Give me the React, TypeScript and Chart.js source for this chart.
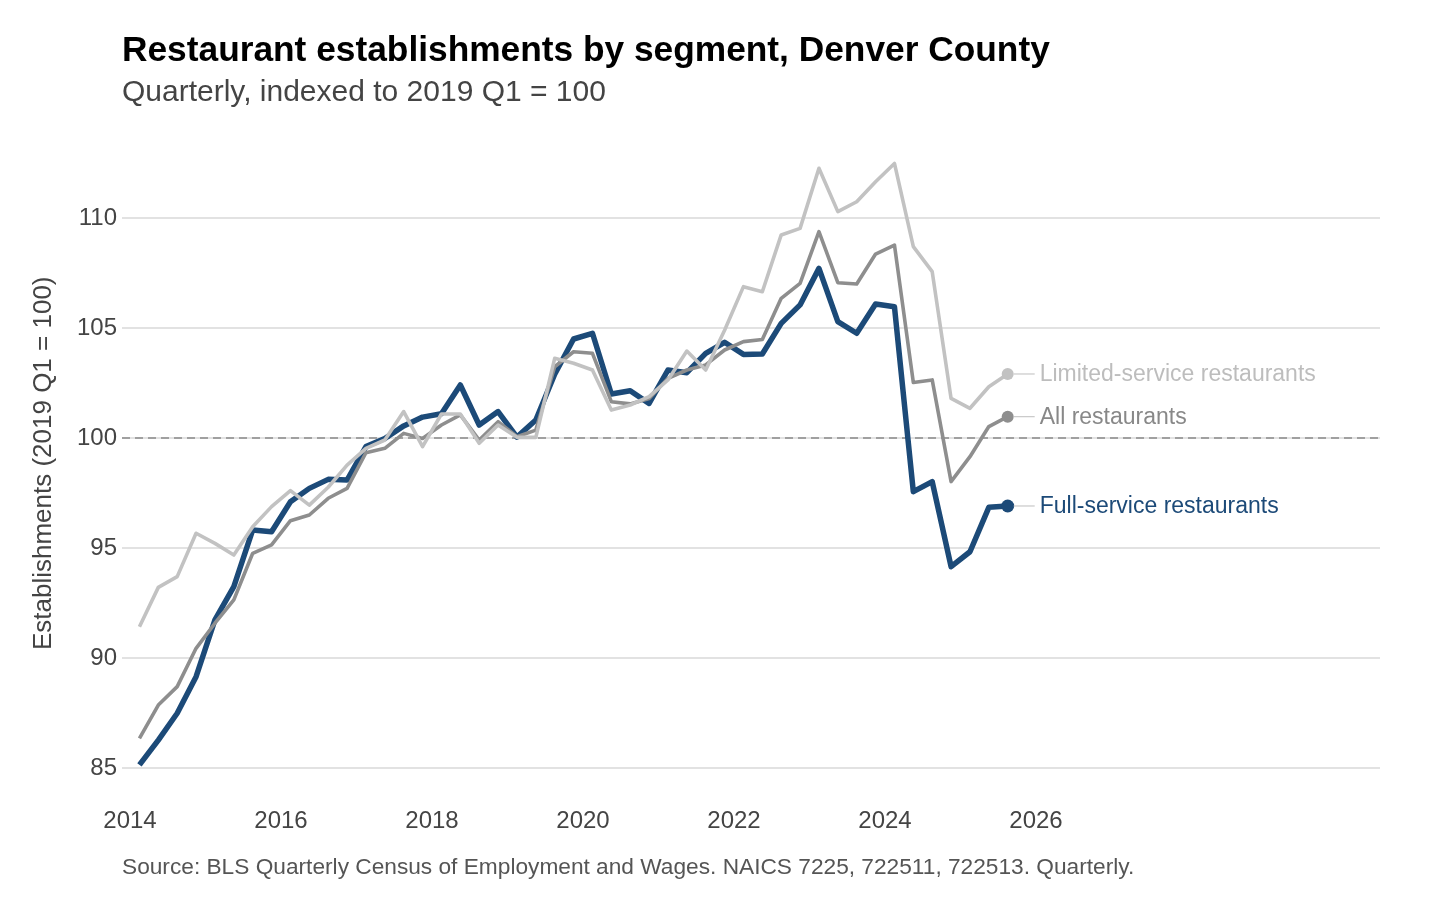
import { Chart, registerables } from 'chart.js';
import { useEffect, useRef } from 'react';

Chart.register(...registerables);

const FONT = '"Liberation Sans", Arial, Helvetica, sans-serif';

const quarters = [
  '2014 Q1', '2014 Q2', '2014 Q3', '2014 Q4',
  '2015 Q1', '2015 Q2', '2015 Q3', '2015 Q4',
  '2016 Q1', '2016 Q2', '2016 Q3', '2016 Q4',
  '2017 Q1', '2017 Q2', '2017 Q3', '2017 Q4',
  '2018 Q1', '2018 Q2', '2018 Q3', '2018 Q4',
  '2019 Q1', '2019 Q2', '2019 Q3', '2019 Q4',
  '2020 Q1', '2020 Q2', '2020 Q3', '2020 Q4',
  '2021 Q1', '2021 Q2', '2021 Q3', '2021 Q4',
  '2022 Q1', '2022 Q2', '2022 Q3', '2022 Q4',
  '2023 Q1', '2023 Q2', '2023 Q3', '2023 Q4',
  '2024 Q1', '2024 Q2', '2024 Q3', '2024 Q4',
  '2025 Q1', '2025 Q2', '2025 Q3',
];

const fullService = [
  85.14, 86.27, 87.49, 89.15, 91.73, 93.24, 95.82, 95.74,
  97.1, 97.71, 98.12, 98.09, 99.61, 99.98, 100.55, 100.95,
  101.1, 102.41, 100.59, 101.2, 100.04, 100.82, 102.9, 104.5,
  104.76, 102.0, 102.15, 101.57, 103.09, 102.97, 103.85, 104.35,
  103.8, 103.82, 105.21, 106.05, 107.71, 105.29, 104.76, 106.09,
  105.97, 97.56, 98.02, 94.15, 94.83, 96.85, 96.91,
];

const allRestaurants = [
  86.35, 87.86, 88.7, 90.44, 91.58, 92.64, 94.76, 95.14,
  96.24, 96.5, 97.26, 97.71, 99.33, 99.53, 100.21, 99.98,
  100.59, 101.05, 99.91, 100.74, 100.06, 100.36, 103.24, 103.92,
  103.85, 101.65, 101.55, 101.8, 102.71, 103.09, 103.32, 104.0,
  104.38, 104.48, 106.35, 107.03, 109.38, 107.06, 107.0, 108.36,
  108.77, 102.52, 102.64, 98.02, 99.15, 100.52, 100.97,
];

const limitedService = [
  91.42, 93.21, 93.7, 95.67, 95.21, 94.68, 95.97, 96.88,
  97.61, 96.95, 97.76, 98.77, 99.53, 99.91, 101.2, 99.61,
  101.09, 101.09, 99.76, 100.59, 100.03, 100.03, 103.62, 103.4,
  103.09, 101.27, 101.5, 101.88, 102.64, 103.95, 103.09, 104.9,
  106.88, 106.65, 109.23, 109.53, 112.26, 110.29, 110.74, 111.65,
  112.48, 108.7, 107.56, 101.8, 101.35, 102.33, 102.91,
];

const xTicks = [2014, 2016, 2018, 2020, 2022, 2024, 2026];
const yTicks = [85, 90, 95, 100, 105, 110];

// quarter label -> decimal year at the middle of the quarter
const toYear = (q: string) => {
  const [y, qq] = q.split(' Q');
  return Number(y) + (Number(qq) - 1) / 4 + 0.125;
};

const series = [
  { label: 'Limited-service restaurants', values: limitedService, color: '#c2c2c2', text: '#bdbdbd', width: 3.6, radius: 6 },
  { label: 'All restaurants', values: allRestaurants, color: '#8e8e8e', text: '#888', width: 3.6, radius: 6 },
  { label: 'Full-service restaurants', values: fullService, color: '#1c4a78', text: '#1c4a78', width: 5.5, radius: 6.5 },
];

const lastIdx = quarters.length - 1;

const decorations = {
  id: 'decorations',
  beforeDatasetsDraw(chart: any) {
    const { ctx, chartArea, scales } = chart;
    const y = scales.y.getPixelForValue(100);
    ctx.save();
    ctx.strokeStyle = '#8a8a8a';
    ctx.lineWidth = 1.6;
    ctx.setLineDash([8, 5]);
    ctx.beginPath();
    ctx.moveTo(chartArea.left, y);
    ctx.lineTo(chartArea.right, y);
    ctx.stroke();
    ctx.restore();
  },
  afterDraw(chart: any) {
    const { ctx } = chart;
    ctx.save();
    ctx.textBaseline = 'alphabetic';
    ctx.textAlign = 'left';
    ctx.fillStyle = '#000';
    ctx.font = `bold 35.3px ${FONT}`;
    ctx.fillText('Restaurant establishments by segment, Denver County', 122, 61);
    ctx.fillStyle = '#444';
    ctx.font = `30px ${FONT}`;
    ctx.fillText('Quarterly, indexed to 2019 Q1 = 100', 122, 101);
    ctx.fillStyle = '#555';
    ctx.font = `22.7px ${FONT}`;
    ctx.fillText(
      'Source: BLS Quarterly Census of Employment and Wages. NAICS 7225, 722511, 722513. Quarterly.',
      122,
      874,
    );

    // end-of-line labels
    series.forEach((s, i) => {
      const pt = chart.getDatasetMeta(i).data[lastIdx];
      if (!pt) return;
      ctx.strokeStyle = '#c8c8c8';
      ctx.lineWidth = 1.2;
      ctx.beginPath();
      ctx.moveTo(pt.x + 6, pt.y);
      ctx.lineTo(pt.x + 27, pt.y);
      ctx.stroke();
      ctx.fillStyle = s.text;
      ctx.font = `23px ${FONT}`;
      ctx.textBaseline = 'middle';
      ctx.fillText(s.label, pt.x + 32, pt.y + 1);
    });
    ctx.restore();
  },
};

const App = () => {
  const canvasRef = useRef<HTMLCanvasElement | null>(null);

  useEffect(() => {
    if (!canvasRef.current) return;
    const xs = quarters.map(toYear);

    const chart = new Chart(canvasRef.current, {
      type: 'line',
      data: {
        datasets: series.map((s, i) => ({
          label: s.label,
          data: s.values.map((v, j) => ({ x: xs[j], y: v })),
          borderColor: s.color,
          backgroundColor: s.color,
          borderWidth: s.width,
          borderJoinStyle: 'round',
          tension: 0,
          order: i,
          pointRadius: (c: any) => (c.dataIndex === lastIdx ? s.radius : 0),
          pointBorderWidth: 0,
          pointBackgroundColor: s.color,
        })),
      },
      options: {
        responsive: true,
        maintainAspectRatio: false,
        animation: false,
        events: [],
        layout: { padding: { top: 152, right: 76, bottom: 0, left: 0 } },
        plugins: {
          legend: { display: false },
          tooltip: { enabled: false },
        },
        scales: {
          x: {
            type: 'linear',
            min: 2013.894,
            max: 2030.556,
            grid: { display: false, drawTicks: false, tickLength: 0 },
            border: { display: false },
            afterBuildTicks: (s: any) => {
              s.ticks = xTicks.map((v) => ({ value: v }));
            },
            afterFit: (s: any) => {
              s.height = 135.4;
            },
            ticks: {
              color: '#444',
              font: { family: FONT, size: 24 },
              padding: 32,
              maxRotation: 0,
              callback: (v: any) => String(v),
            },
          },
          y: {
            min: 84.7,
            max: 113,
            grid: { color: '#e2e2e2', lineWidth: 2, drawTicks: false, tickLength: 0 },
            border: { display: false },
            afterBuildTicks: (s: any) => {
              s.ticks = yTicks.map((v) => ({ value: v }));
            },
            afterFit: (s: any) => {
              s.width = 122;
            },
            ticks: {
              color: '#444',
              font: { family: FONT, size: 24 },
              padding: 5,
              callback: (v: any) => String(v),
            },
            title: {
              display: true,
              text: 'Establishments (2019 Q1 = 100)',
              color: '#444',
              font: { family: FONT, size: 26 },
              padding: { top: 28, bottom: 0 },
            },
          },
        },
      },
      plugins: [decorations],
    });

    return () => {
      chart.destroy();
    };
  }, []);

  return (
    <div style={{ position: 'absolute', left: 0, top: 0, width: 1456, height: 910, background: '#fff' }}>
      <canvas ref={canvasRef} />
    </div>
  );
};

export default App;
